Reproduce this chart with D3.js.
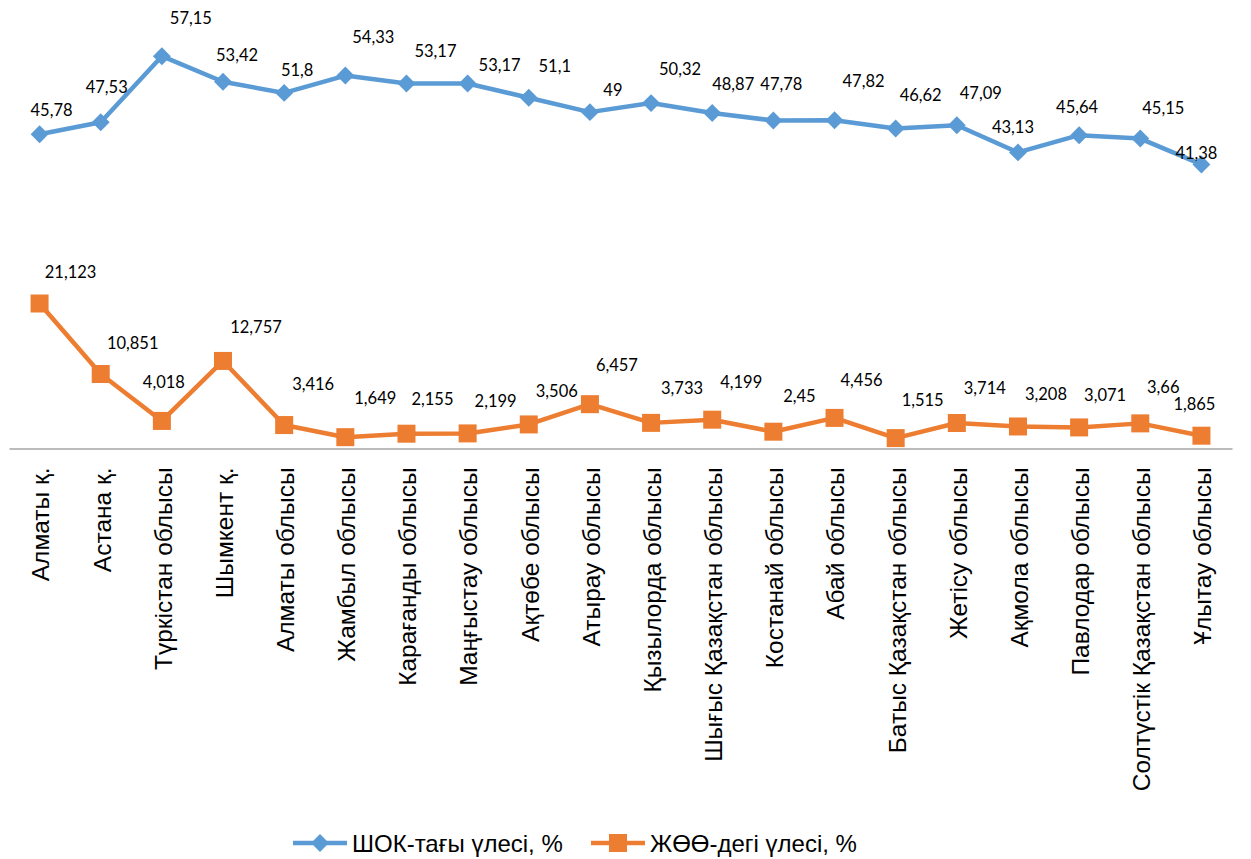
<!DOCTYPE html>
<html>
<head>
<meta charset="utf-8">
<script src="https://cdn.jsdelivr.net/npm/d3@7"></script>
<style>
  html, body { margin: 0; padding: 0; background: #ffffff; }
  svg { display: block; }
</style>
</head>
<body>
<svg id="chart" width="1251" height="859"></svg>
<script>
// ---------- data ----------
const categories = [
  "Алматы қ.", "Астана қ.", "Түркістан облысы", "Шымкент қ.", "Алматы облысы",
  "Жамбыл облысы", "Карағанды облысы", "Маңғыстау облысы", "Ақтөбе облысы", "Атырау облысы",
  "Қызылорда облысы", "Шығыс Қазақстан облысы", "Костанай облысы", "Абай облысы", "Батыс Қазақстан облысы",
  "Жетісу облысы", "Ақмола облысы", "Павлодар облысы", "Солтүстік Қазақстан облысы", "Ұлытау облысы"
];
const shokValues = [45.78, 47.53, 57.15, 53.42, 51.8, 54.33, 53.17, 53.17, 51.1, 49,
                    50.32, 48.87, 47.78, 47.82, 46.62, 47.09, 43.13, 45.64, 45.15, 41.38];
const zhooValues = [21.123, 10.851, 4.018, 12.757, 3.416, 1.649, 2.155, 2.199, 3.506, 6.457,
                    3.733, 4.199, 2.45, 4.456, 1.515, 3.714, 3.208, 3.071, 3.66, 1.865];
const seriesNames = ["ШОК-тағы үлесі, %", "ЖӨӨ-дегі үлесі, %"];
// label nudges (relative to each point), as placed in the original
const shokLabelNudge = [[12,-24],[6,-35],[29,-38],[14,-27],[13,-23],[28,-38],[29,-32],[32,-18],[26,-32],[23,-22],
                        [29,-34],[21,-29],[8,-36],[29,-39],[25,-33],[24,-32],[-5,-25],[-2,-28],[23,-31],[-5,-11]];
const zhooLabelNudge = [[31,-31],[32,-31],[2,-39],[33,-34],[29,-41],[30,-39],[26,-35],[28,-32],[28,-33],[27,-39],
                        [31,-35],[29,-38],[26,-36],[27,-38],[27,-38],[28,-35],[28,-32],[26,-32],[23,-36],[-7,-32]];

const colors = ["#5b9bd5", "#ed7d31"];
const fmt = v => String(v).replace(".", ",");

// ---------- layout ----------
const svg = d3.select("#chart");
const plot = { left: 9, right: 1232, top: 2.3, bottom: 448.5 };

const x = d3.scaleBand().domain(categories).range([plot.left, plot.right]).paddingInner(0).paddingOuter(0);
const cx = c => x(c) + x.bandwidth() / 2;
const y = d3.scaleLinear().domain([0, 65]).range([plot.bottom, plot.top]);

// x axis (category axis, line only)
const xAxis = d3.axisBottom(x).tickSize(0).tickPadding(0);
const gx = svg.append("g").attr("transform", `translate(0,${plot.bottom})`).call(xAxis);
gx.select(".domain").attr("stroke", "#a6a6a6").attr("stroke-width", 1.5);
gx.selectAll(".tick text")
  .attr("font-family", "'Liberation Sans', Arial, sans-serif")
  .attr("font-size", 24.5)
  .attr("fill", "#000")
  .attr("text-anchor", "end")
  .attr("transform", "translate(1,19) rotate(-90)")
  .attr("x", 0).attr("y", 0).attr("dy", "0.36em");

const series = [
  { name: seriesNames[0], values: shokValues, nudge: shokLabelNudge, color: colors[0], shape: "diamond" },
  { name: seriesNames[1], values: zhooValues, nudge: zhooLabelNudge, color: colors[1], shape: "square" }
];

const line = d3.line().x(d => cx(d.c)).y(d => y(d.v));
const diamond = d3.symbol().type(d3.symbolSquare).size(160);
const square = d3.symbol().type(d3.symbolSquare).size(324);

series.forEach(s => {
  const pts = categories.map((c, i) => ({ c, v: s.values[i], n: s.nudge[i] }));
  const g = svg.append("g");
  g.append("path").datum(pts)
    .attr("d", line).attr("fill", "none")
    .attr("stroke", s.color).attr("stroke-width", 4.5).attr("stroke-linejoin", "round");
  g.selectAll("path.m").data(pts).join("path").attr("class", "m")
    .attr("d", s.shape === "diamond" ? diamond : square)
    .attr("transform", d => `translate(${cx(d.c)},${y(d.v)})` + (s.shape === "diamond" ? " rotate(45)" : ""))
    .attr("fill", s.color);
  g.selectAll("text").data(pts).join("text")
    .attr("x", d => cx(d.c) + d.n[0])
    .attr("y", d => y(d.v) + d.n[1])
    .attr("dy", "0.36em")
    .attr("text-anchor", "middle")
    .attr("font-family", "Lato, 'Open Sans', sans-serif")
    .attr("font-size", 16.5)
    .attr("fill", "#000")
    .text(d => fmt(d.v));
});

// legend
const legendItems = [
  { x: 293, s: series[0] },
  { x: 591, s: series[1] }
];
const ly = 843;
legendItems.forEach(it => {
  const g = svg.append("g").attr("transform", `translate(${it.x},${ly})`);
  g.append("line").attr("x1", 0).attr("x2", 54).attr("y1", 0).attr("y2", 0)
    .attr("stroke", it.s.color).attr("stroke-width", 4.5);
  g.append("path").attr("d", it.s.shape === "diamond" ? diamond : square)
    .attr("transform", "translate(27,0)" + (it.s.shape === "diamond" ? " rotate(45)" : ""))
    .attr("fill", it.s.color);
  g.append("text").attr("x", 59).attr("y", 0).attr("dy", "0.36em")
    .attr("font-family", "'Liberation Sans', Arial, sans-serif")
    .attr("font-size", 24).attr("fill", "#000")
    .text(it.s.name);
});
</script>
</body>
</html>
